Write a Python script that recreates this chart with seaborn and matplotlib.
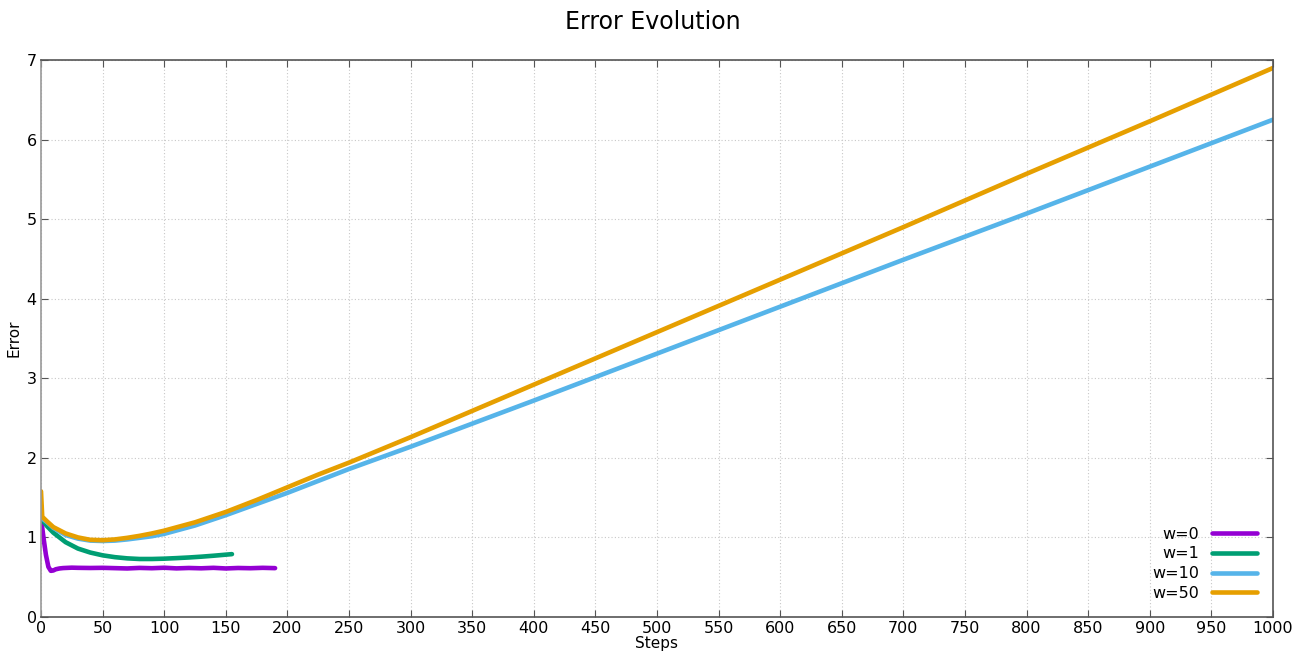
import numpy as np
import pandas as pd
import matplotlib
matplotlib.use("Agg")
import matplotlib.pyplot as plt
import seaborn as sns

# Data (step, error)
steps_w0 = [0, 2, 4, 6, 8, 10, 12, 15, 18, 25, 30, 40, 50, 60, 70, 80, 90, 100, 110,
            120, 130, 140, 150, 160, 170, 180, 190]
error_w0 = [1.24, 1.00, 0.78, 0.63, 0.58, 0.585, 0.60, 0.61, 0.615, 0.620, 0.618, 0.616,
            0.618, 0.614, 0.610, 0.617, 0.613, 0.619, 0.611, 0.616, 0.612, 0.618, 0.610,
            0.616, 0.613, 0.618, 0.614]

steps_w1 = [0, 5, 10, 20, 30, 40, 50, 60, 70, 80, 90, 100, 110, 120, 130, 140, 155]
error_w1 = [1.24, 1.14, 1.06, 0.94, 0.86, 0.81, 0.775, 0.752, 0.737, 0.729, 0.729, 0.733,
            0.740, 0.748, 0.758, 0.770, 0.79]

steps_w10 = [0, 5, 10, 20, 30, 40, 50, 60, 70, 80, 90, 100, 125, 150, 175, 200, 225,
             250, 300, 350, 400, 500, 600, 700, 800, 900, 1000]
error_w10 = [1.25, 1.19, 1.12, 1.03, 0.985, 0.96, 0.955, 0.96, 0.975, 0.995, 1.015,
             1.045, 1.15, 1.28, 1.42, 1.56, 1.71, 1.86, 2.14, 2.43, 2.72, 3.31, 3.90,
             4.49, 5.07, 5.66, 6.25]

steps_w50 = [0, 1, 5, 10, 20, 30, 40, 50, 60, 70, 80, 90, 100, 125, 150, 175, 200, 225,
             250, 300, 350, 400, 500, 600, 700, 800, 900, 1000]
error_w50 = [1.58, 1.26, 1.20, 1.13, 1.05, 1.00, 0.97, 0.965, 0.975, 0.995, 1.02, 1.05,
             1.085, 1.19, 1.32, 1.47, 1.63, 1.79, 1.94, 2.26, 2.59, 2.92, 3.58, 4.24,
             4.90, 5.57, 6.23, 6.90]

labels = ["w=0", "w=1", "w=10", "w=50"]
colors = ["#9400D3", "#009E73", "#56B4E9", "#E69F00"]

frames = []
for lab, s, e in zip(labels, [steps_w0, steps_w1, steps_w10, steps_w50],
                     [error_w0, error_w1, error_w10, error_w50]):
    frames.append(pd.DataFrame({"Steps": s, "Error": e, "series": lab}))
df = pd.concat(frames, ignore_index=True)

sns.set_style("ticks")
plt.rcParams["font.family"] = ["DejaVu Sans"]
plt.rcParams["text.color"] = "black"
plt.rcParams["axes.labelcolor"] = "black"

fig = plt.figure(figsize=(13.06, 6.57), dpi=100)
ax = fig.add_axes([41 / 1306, 1 - 617 / 657, (1273 - 41) / 1306, (617 - 60) / 657])

sns.lineplot(data=df, x="Steps", y="Error", hue="series", hue_order=labels,
             palette=colors, linewidth=3.3, ax=ax, sort=False, estimator=None)

ax.set_xlim(0, 1000)
ax.set_ylim(0, 7)
ax.set_xticks(np.arange(0, 1001, 50))
ax.set_yticks(np.arange(0, 8, 1))
ax.tick_params(direction="in", top=True, right=True, labelsize=11.5, length=5,
               color="#555555", labelcolor="black", pad=3)
ax.grid(True, linestyle=(0, (1, 2)), color="#c8c8c8", linewidth=0.8)
for sp in ax.spines.values():
    sp.set_color("#555555")
    sp.set_linewidth(1.2)
ax.spines["left"].set_color("#999999")

ax.set_xlabel("Steps", fontsize=11, labelpad=0)
ax.set_ylabel("Error", fontsize=11, labelpad=4)
fig.suptitle("Error Evolution", fontsize=17, y=0.985)

leg = ax.legend(loc="lower right", frameon=False, markerfirst=False, fontsize=11.5,
                handlelength=2.8, labelspacing=0.3, borderaxespad=0.6,
                handletextpad=0.8)

fig.savefig("out.png", dpi=100)
